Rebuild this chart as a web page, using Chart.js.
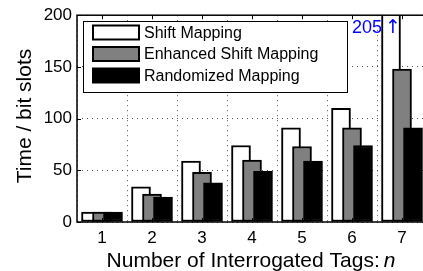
<!DOCTYPE html>
<html>
<head>
<meta charset="utf-8">
<script src="https://cdn.jsdelivr.net/npm/chart.js@4.4.0/dist/chart.umd.min.js"></script>
<style>
    html, body { margin: 0; padding: 0; background: #fff; overflow: hidden; }
    #wrap { width: 440px; height: 271px; }
</style>
</head>
<body>
<div id="wrap"><canvas id="chart" width="440" height="271"></canvas></div>
<script>
// Dữ liệu
const tags = [1, 2, 3, 4, 5, 6, 7];
const shiftMapping = [9.5, 34, 59, 74, 91, 110, 205];
const enhancedShiftMapping = [9.5, 27, 48, 60, 73, 91, 148];
const randomizedMapping = [9.5, 24, 38, 49, 59, 74, 91];
const yTicks = [0, 50, 100, 150, 200];
const seriesNames = ['Shift Mapping', 'Enhanced Shift Mapping', 'Randomized Mapping'];
const seriesColors = ['#ffffff', '#808080', '#000000'];

const FONT = '"Liberation Sans", Arial, Helvetica, sans-serif';
const barShift = 0.22;

function toPoints(values, dx) {
    return values.map((v, i) => ({ x: tags[i] + dx, y: v }));
}

// Khung, vạch chia, chú thích và nhãn trục
const decorPlugin = {
    id: 'decor',
    afterDraw(chart) {
        const ctx = chart.ctx;
        const area = chart.chartArea;
        const xs = chart.scales.x;
        const ys = chart.scales.y;
        ctx.save();

        // khung trục
        ctx.strokeStyle = '#000';
        ctx.lineWidth = 1.5;
        ctx.strokeRect(area.left, area.top, area.right - area.left, area.bottom - area.top);

        // vạch chia hướng vào trong
        ctx.lineWidth = 1;
        ctx.beginPath();
        tags.forEach(t => {
            const px = Math.round(xs.getPixelForValue(t)) + 0.5;
            ctx.moveTo(px, area.top);
            ctx.lineTo(px, area.top + 4);
            ctx.moveTo(px, area.bottom);
            ctx.lineTo(px, area.bottom - 4);
        });
        yTicks.forEach(v => {
            const py = Math.round(ys.getPixelForValue(v)) + 0.5;
            ctx.moveTo(area.left, py);
            ctx.lineTo(area.left + 4, py);
        });
        ctx.stroke();

        // chú thích
        const box = { x: 83.5, y: 21.5, w: 264, h: 71 };
        ctx.fillStyle = '#fff';
        ctx.fillRect(box.x, box.y, box.w, box.h);
        ctx.lineWidth = 1;
        ctx.strokeRect(box.x, box.y, box.w, box.h);
        ctx.font = '16px ' + FONT;
        ctx.textBaseline = 'middle';
        ctx.textAlign = 'left';
        seriesNames.forEach((name, i) => {
            const cy = 32.5 + i * 21.5;
            ctx.fillStyle = seriesColors[i];
            ctx.fillRect(93, cy - 7, 46, 14);
            ctx.lineWidth = 2;
            ctx.strokeStyle = '#000';
            ctx.strokeRect(93, cy - 7, 46, 14);
            ctx.fillStyle = '#000';
            ctx.fillText(name, 144, cy + 1);
        });

        // giá trị bị cắt ở cột 7
        ctx.fillStyle = '#0000ff';
        ctx.font = '18px ' + FONT;
        ctx.textBaseline = 'alphabetic';
        ctx.textAlign = 'right';
        ctx.fillText('205', 382, 33);
        ctx.textAlign = 'center';
        ctx.font = '19px "DejaVu Sans", sans-serif';
        ctx.fillText('\u2191', 393, 33);

        // nhãn trục x
        ctx.fillStyle = '#000';
        ctx.font = '21px ' + FONT;
        const mainText = 'Number of Interrogated Tags:';
        const w1 = ctx.measureText(mainText).width;
        ctx.font = 'italic 21px ' + FONT;
        const w2 = ctx.measureText('n').width;
        const gap = 4;
        const startX = 251 - (w1 + gap + w2) / 2;
        ctx.textAlign = 'left';
        ctx.font = '21px ' + FONT;
        ctx.fillText(mainText, startX, 267);
        ctx.font = 'italic 21px ' + FONT;
        ctx.fillText('n', startX + w1 + gap, 267);

        // nhãn trục y
        ctx.translate(31, 116);
        ctx.rotate(-Math.PI / 2);
        ctx.font = '21px ' + FONT;
        ctx.textAlign = 'center';
        ctx.fillText('Time / bit slots', 0, 0);
        ctx.restore();
    }
};

const ctx = document.getElementById('chart').getContext('2d');
new Chart(ctx, {
    type: 'bar',
    data: {
        datasets: [
            {
                label: seriesNames[0],
                data: toPoints(shiftMapping, -barShift),
                backgroundColor: seriesColors[0],
                order: 3
            },
            {
                label: seriesNames[1],
                data: toPoints(enhancedShiftMapping, 0),
                backgroundColor: seriesColors[1],
                order: 2
            },
            {
                label: seriesNames[2],
                data: toPoints(randomizedMapping, barShift),
                backgroundColor: seriesColors[2],
                order: 1
            }
        ]
    },
    options: {
        responsive: false,
        animation: false,
        grouped: false,
        barThickness: 19,
        borderWidth: 2,
        borderColor: '#000',
        borderSkipped: false,
        layout: { padding: { top: 13, right: 13, left: 0, bottom: 0 } },
        plugins: {
            legend: { display: false },
            tooltip: { enabled: false }
        },
        scales: {
            x: {
                type: 'linear',
                min: 0.5,
                max: 7.5,
                offset: false,
                afterBuildTicks: axis => { axis.ticks = tags.map(v => ({ value: v })); },
                afterFit: axis => { axis.height = 49; },
                ticks: {
                    callback: v => String(v),
                    color: '#000',
                    font: { family: FONT, size: 17 },
                    padding: 6,
                    maxRotation: 0
                },
                grid: { color: '#555', lineWidth: 1, drawTicks: false },
                border: { display: false, dash: [1, 4] }
            },
            y: {
                min: 0,
                max: 200,
                afterBuildTicks: axis => { axis.ticks = yTicks.map(v => ({ value: v })); },
                afterFit: axis => { axis.width = 77; },
                ticks: {
                    color: '#000',
                    font: { family: FONT, size: 17 },
                    padding: 5
                },
                grid: { color: '#555', lineWidth: 1, drawTicks: false },
                border: { display: false, dash: [1, 4] }
            }
        }
    },
    plugins: [decorPlugin]
});
</script>
</body>
</html>
